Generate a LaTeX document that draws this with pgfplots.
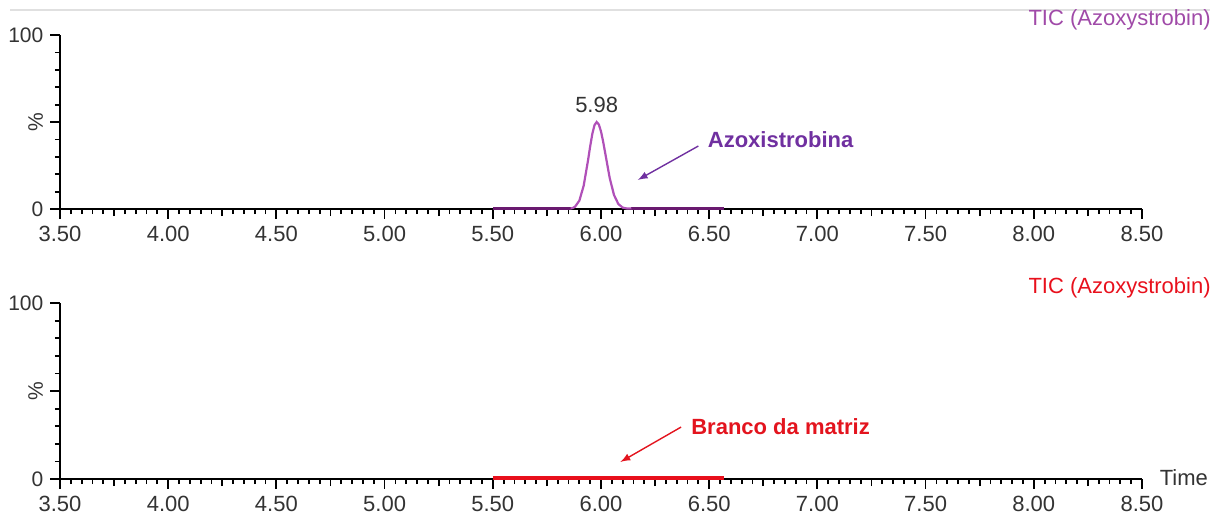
\documentclass[border=0pt]{standalone}
\usepackage{pgfplots}
\pgfplotsset{compat=1.18}
\usepackage{fontspec}
\setmainfont{Liberation Sans}

\definecolor{trace1}{HTML}{B050B8}
\definecolor{base1}{HTML}{6A1A70}
\definecolor{lbl1}{HTML}{7030A0}
\definecolor{tic1}{HTML}{A04AA8}
\definecolor{trace2}{HTML}{E8101C}
\definecolor{lbl2}{HTML}{E3141E}
\definecolor{ticklbl}{HTML}{333333}

\pgfplotsset{
  chrom/.style={
    scale only axis,
    width=541pt,
    xmin=3.5, xmax=8.5,
    ymin=0, ymax=100,
    axis x line=bottom, axis y line=left,
    axis line style={-, line width=1.1pt, black},
    xtick={3.5,4,...,8.5},
    minor x tick num=9,
    extra x ticks={3.75,4.25,4.75,5.25,5.75,6.25,6.75,7.25,7.75,8.25},
    extra x tick labels={},
    extra x tick style={major tick length=3.5pt},
    ytick={0,50,100},
    yticklabels={0,,100},
    minor y tick num=4,
    tick align=outside,
    major tick length=4.8pt,
    minor tick length=2.6pt,
    tick style={black, line width=0.9pt},
    xticklabel style={font=\fontsize{11}{12}\selectfont, text=ticklbl, /pgf/number format/.cd, fixed, fixed zerofill, precision=2},
    yticklabel style={font=\fontsize{10.5}{12}\selectfont, text=ticklbl},
    /pgf/number format/assume math mode=true,
    clip=false,
  }
}

\begin{document}
\begin{tikzpicture}
\path (0,0) rectangle (611.5pt,257.5pt);
\draw[black!12, line width=0.6pt] (5pt,252.5pt) -- (605pt,252.5pt);

% upper chromatogram
\begin{axis}[chrom, height=87pt, at={(30pt,153pt)}, anchor=south west]
\addplot[base1, line width=1.6pt] coordinates {(5.50,0.3) (5.86,0.3)};
\addplot[base1, line width=1.6pt] coordinates {(6.14,0.3) (6.57,0.3)};
\addplot[trace1, line width=1.1pt] coordinates {
  (5.86,0.3) (5.87,0.6) (5.88,1.3) (5.90,4.8) (5.92,13.4) (5.94,27.9)
  (5.95,36.0) (5.96,43.2) (5.97,48.2) (5.98,50.0) (5.99,48.6)
  (6.00,44.6) (6.01,38.7) (6.02,31.8) (6.04,18.0) (6.06,8.1)
  (6.08,2.9) (6.10,0.8) (6.12,0.3) (6.14,0.3)
};
\node[font=\fontsize{11}{12}\selectfont, text=ticklbl, anchor=south] at (axis cs:5.98,51.5) {5.98};
\node[font=\bfseries\fontsize{11}{12}\selectfont, text=lbl1] at (axis cs:6.83,39.7) {Azoxistrobina};
\draw[-latex, lbl1, line width=0.7pt] (axis cs:6.45,36.2) -- (axis cs:6.17,16.7);
\node[font=\fontsize{11}{12}\selectfont, text=tic1, anchor=east] at (rel axis cs:1.07,1.088) {TIC (Azoxystrobin)};
\node[font=\fontsize{10.5}{12}\selectfont, text=ticklbl, rotate=90, anchor=south] at ([xshift=-5pt]rel axis cs:0,0.5) {\%};
\end{axis}

% lower chromatogram
\begin{axis}[chrom, height=88pt, at={(30pt,18pt)}, anchor=south west]
\addplot[trace2, line width=1.6pt] coordinates {(5.50,0.6) (6.57,0.6)};
\node[font=\bfseries\fontsize{11}{12}\selectfont, text=lbl2] at (axis cs:6.83,29.5) {Branco da matriz};
\draw[-latex, lbl2, line width=0.7pt] (axis cs:6.37,29.5) -- (axis cs:6.09,9.7);
\node[font=\fontsize{11}{12}\selectfont, text=trace2, anchor=east] at (rel axis cs:1.07,1.087) {TIC (Azoxystrobin)};
\node[font=\fontsize{11}{12}\selectfont, text=ticklbl, anchor=west] at (rel axis cs:1.01,0.01) {Time};
\node[font=\fontsize{10.5}{12}\selectfont, text=ticklbl, rotate=90, anchor=south] at ([xshift=-5pt]rel axis cs:0,0.5) {\%};
\end{axis}
\end{tikzpicture}
\end{document}
